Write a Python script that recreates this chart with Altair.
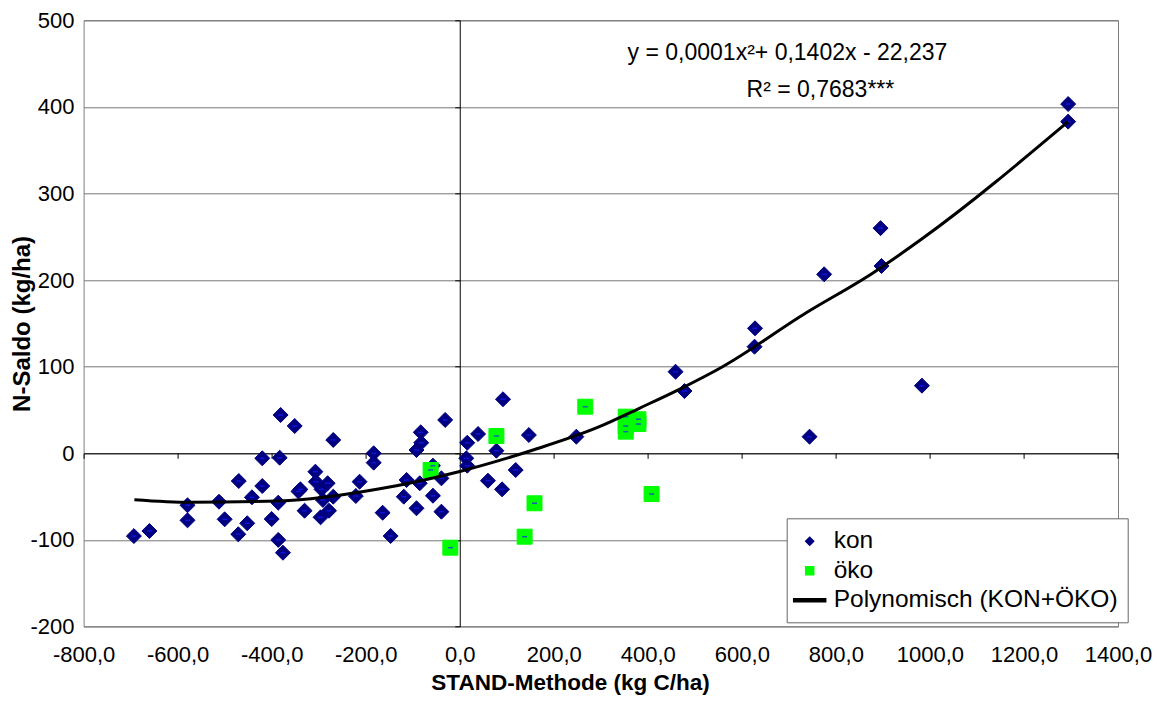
import altair as alt
import pandas as pd

# ---- data ----
kon_x = [-693, -660, -381, -420, -383, -470, -420, -442, -579, -512, -386, -579, -500, -452,
         -400, -471, -386, -376, -351, -269, -31, -83, -82, -92, 16, 14, 16, 39, -183, -183,
         -57, -307, -113, -85, -39, -306, -281, -213, -339, -343, -294, -269, -221, -291, -119,
         -57, -330, -278, -296, -164, -92, -39, -147, 92, 78, 147, 248, 60, 119, 90,
         459, 478, 628, 627, 744, 775, 895, 897, 983, 1294, 1294]
kon_y = [-95.6, -89.7, 44.2, -5.8, -5.1, -32, -37.8, -50.8, -60, -55.9, -57, -77.4, -76.2, -80.8,
         -75.9, -93.5, -100, -114.8, 31.5, 15.4, 38.5, 24.2, 12.2, 3.8, 12.2, -5.8, -14.3, 22.3, 0, -10.8,
         -14.3, -21.2, -30.8, -34.6, -28.9, -32.8, -34.6, -32.8, -41.6, -44, -41.6, -50.1, -49.3, -53.9, -50.1,
         -49, -66.3, -66.3, -73.9, -68.6, -63.5, -67.4, -95.5, 62.4, 3, 21.1, 19.2, -31.6, -19.3, -41.6,
         94.2, 71.9, 144.3, 123.1, 19.2, 206.7, 260, 216.3, 78.1, 403.3, 383]
oko_x = [-62, -20, 78, 267, 353, 353, 353, 380, 380, 159, 408, 138]
oko_y = [-19.3, -109, 20, 53.8, 42.3, 31.5, 25, 39.3, 33.8, -57.7, -47, -96.3]

# trend line (KON+ÖKO)
curve_x = [-692, -574, -383, -170, 0, 156, 297, 382, 467, 559, 736, 878, 984, 1294]
curve_y = [-53.5, -56.5, -55, -41, -21, 3.8, 30.7, 52, 73.9, 100, 162, 208, 248, 383]

series_names = ["kon", "öko", "Polynomisch (KON+ÖKO)"]
series_colors = ["#000080", "#00ff00", "#000000"]
x_ticks = [-800, -600, -400, -200, 0, 200, 400, 600, 800, 1000, 1200, 1400]
y_ticks = [-200, -100, 0, 100, 200, 300, 400, 500]
eq_text = ["y = 0,0001x²+ 0,1402x - 22,237"]
r2_text = ["R² = 0,7683***"]
eq_pos = [357, 454]
r2_pos = [610, 411]

df = pd.DataFrame({
    "x": kon_x + oko_x,
    "y": kon_y + oko_y,
    "series": ["kon"] * len(kon_x) + ["öko"] * len(oko_x),
})
curve_df = pd.DataFrame({"x": curve_x, "y": curve_y})

# ---- layout ----
W, H = 1034.4, 606.2
LEFT, TOP = 83.6, 20.3
XMIN, XMAX, YMIN, YMAX = -800, 1400, -200, 500
x_zero_px = W * (0 - XMIN) / (XMAX - XMIN)
y_zero_px = H * (YMAX - 0) / (YMAX - YMIN)
FONT = "Liberation Sans"

xscale = alt.Scale(domain=[XMIN, XMAX], nice=False, zero=False)
yscale = alt.Scale(domain=[YMIN, YMAX], nice=False, zero=False)

x_axis = alt.Axis(
    values=x_ticks, offset=-(H - y_zero_px), orient="bottom",
    domain=True, domainColor="black", domainWidth=1,
    ticks=True, tickSize=5, tickColor="black", tickWidth=1,
    grid=False,
    labelExpr="replace(replace(format(datum.value, '.1f'), '.', ','), '\u2212', '-')",
    labelFont="Liberation Sans Narrow, Liberation Sans", labelFontSize=22, labelColor="black",
    labelPadding=(644 - (TOP + y_zero_px + 5)), labelFlush=False, labelOverlap=False,
    title="STAND-Methode (kg C/ha)", titleFont=FONT, titleFontSize=22.5, titleFontWeight="bold",
    titleColor="black", titleAlign="center", titleBaseline="middle",
    titleX=570 - LEFT, titleY=682 - (TOP + y_zero_px),
)
y_axis = alt.Axis(
    values=y_ticks, offset=-x_zero_px, orient="left",
    domain=True, domainColor="black", domainWidth=1,
    ticks=True, tickSize=5, tickColor="black", tickWidth=1,
    grid=True, gridColor="#777777", gridWidth=1,
    labelExpr="replace(format(datum.value, 'd'), '\u2212', '-')",
    labelFont=FONT, labelFontSize=22, labelColor="black",
    labelPadding=(LEFT + x_zero_px - 5 - 74), labelFlush=False, labelOverlap=False,
    title="N-Saldo (kg/ha)", titleFont=FONT, titleFontSize=24, titleFontWeight="bold",
    titleColor="black", titleAlign="center", titleBaseline="middle", titleAngle=270,
    titleX=22 - (LEFT + x_zero_px), titleY=H / 2,
)

leg = alt.Legend(
    title=None, orient="none", legendX=703.1, legendY=498.0,
    padding=10, fillColor="white", strokeColor="#666666",
    symbolSize=576, labelFont=FONT, labelFontSize=24.5, labelColor="black",
    labelOffset=11, rowPadding=4.5, labelLimit=0, symbolOpacity=1,
)
shapes = [
    "M0,-0.333L0.333,0L0,0.333L-0.333,0Z",
    "M-0.333,-0.333L0.333,-0.333L0.333,0.333L-0.333,0.333Z",
    "M-1.333,-0.125L1.333,-0.125L1.333,0.125L-1.333,0.125Z",
]

points = alt.Chart(df).mark_point(filled=False, opacity=1, size=2025, strokeWidth=1).encode(
    x=alt.X("x:Q", scale=xscale, axis=x_axis),
    y=alt.Y("y:Q", scale=yscale, axis=y_axis),
    color=alt.Color("series:N", scale=alt.Scale(domain=series_names, range=series_colors), legend=leg),
    fill=alt.Fill("series:N", scale=alt.Scale(domain=series_names, range=series_colors), legend=leg),
    shape=alt.Shape("series:N", scale=alt.Scale(domain=series_names, range=shapes), legend=leg),
)

dashes = alt.Chart(df).mark_tick(orient="horizontal", size=5, thickness=1.5, color="#1a1aff").encode(
    x="x:Q", y="y:Q"
)

curve = alt.Chart(curve_df).mark_line(
    color="black", strokeWidth=3, interpolate="monotone"
).encode(x="x:Q", y="y:Q")

eq = alt.Chart(pd.DataFrame({"t": eq_text})).mark_text(
    align="left", baseline="alphabetic", font=FONT, fontSize=23, color="black"
).encode(x=alt.datum(eq_pos[0]), y=alt.datum(eq_pos[1]), text="t:N")

r2 = alt.Chart(pd.DataFrame({"t": r2_text})).mark_text(
    align="left", baseline="alphabetic", font=FONT, fontSize=23, color="black"
).encode(x=alt.datum(r2_pos[0]), y=alt.datum(r2_pos[1]), text="t:N")

chart = alt.layer(points, dashes, curve, eq, r2).properties(
    width=W, height=H,
    autosize=alt.AutoSizeParams(type="none"),
    padding={"left": LEFT - 8, "top": TOP - 8, "right": 35, "bottom": 68},
    background="white",
).configure_view(stroke="#808080", strokeWidth=1, fill="white")

chart.save("out.html", embed_options={"renderer": "svg", "actions": False})
